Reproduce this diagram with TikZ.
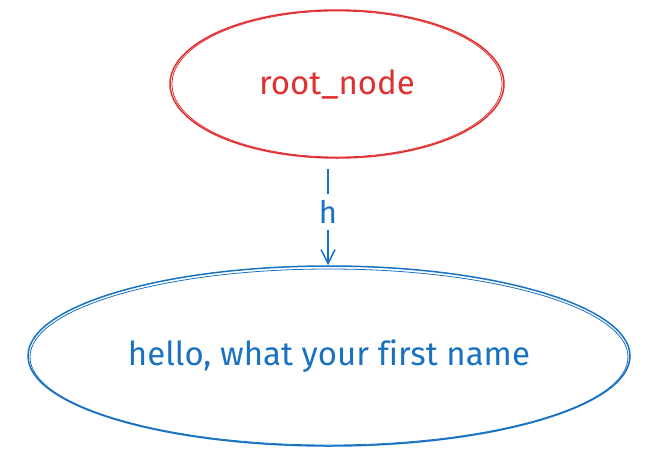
\documentclass[tikz,border=0pt]{standalone}
\usepackage{fontspec}
\setmainfont[Ligatures=NoCommon]{Fira Sans}
\usetikzlibrary{shapes.geometric,arrows.meta}
\definecolor{sred}{HTML}{E03131}
\definecolor{sblue}{HTML}{1971C2}
\tikzset{
  rootbox/.style={draw=sred, text=sred, ellipse, line width=1.5pt, inner sep=0pt,
    font=\fontsize{33}{38}\selectfont},
  childbox/.style={draw=sblue, text=sblue, ellipse, line width=1.5pt, inner sep=0pt,
    font=\fontsize{33}{38}\selectfont},
  link/.style={draw=sblue, line width=1.5pt, -{Straight Barb[length=14pt,width=14pt]},
    shorten <=10pt},
  linklabel/.style={fill=white, text=sblue, font=\fontsize{31}{36}\selectfont, inner sep=6pt}
}
\begin{document}
\begin{tikzpicture}[x=1pt,y=-1pt]
\useasboundingbox (0,0) rectangle (656,464);
\node[rootbox, minimum width=334pt, minimum height=148pt] (root) at (337,84) {root\_node};
\node[childbox, minimum width=602pt, minimum height=180pt] (child) at (329,356) {hello, what your first name};
% sketchy second strokes
\draw[sred, line width=0.8pt] (337,84) ellipse [x radius=165, y radius=73];
\draw[sblue, line width=0.8pt] (329,357) ellipse [x radius=299, y radius=88];
\draw[link] (root.south -| 328,0) -- node[linklabel] {h} (child.north -| 328,0);
\end{tikzpicture}
\end{document}
